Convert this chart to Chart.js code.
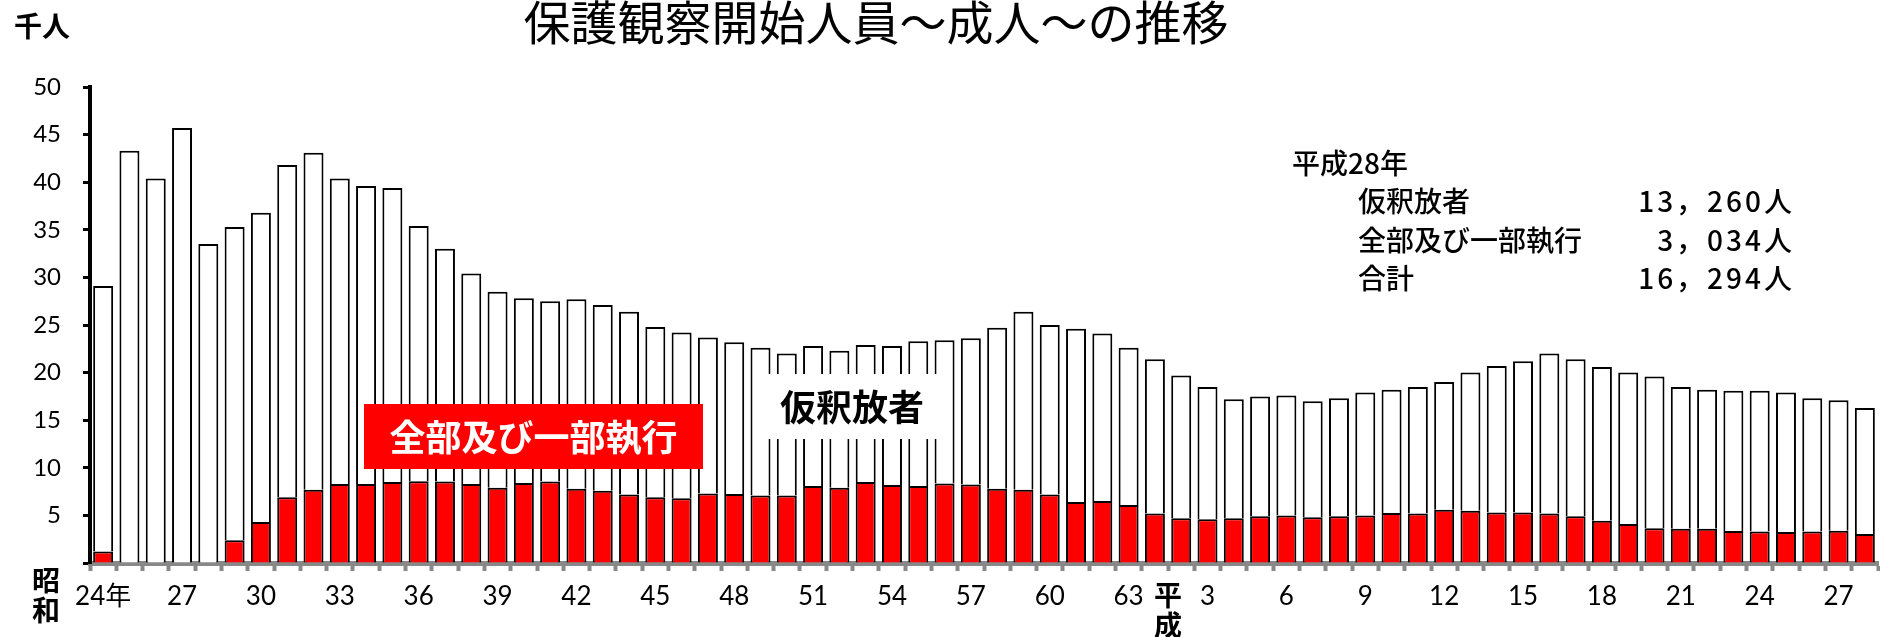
<!DOCTYPE html>
<html>
<head>
<meta charset="utf-8">
<script src="https://cdn.jsdelivr.net/npm/chart.js@4.4.1/dist/chart.umd.min.js"></script>
<style>
  html, body { margin: 0; padding: 0; background: #ffffff; }
  #wrap { width: 1880px; height: 637px; position: relative; }
</style>
</head>
<body>
<div id="wrap"><canvas id="chart" width="1880" height="637"></canvas></div>
<script>
// Years: Showa 24 (1949) to Heisei 28 (2016)
const years = [
  '昭和24','昭和25','昭和26','昭和27','昭和28','昭和29','昭和30','昭和31','昭和32','昭和33',
  '昭和34','昭和35','昭和36','昭和37','昭和38','昭和39','昭和40','昭和41','昭和42','昭和43',
  '昭和44','昭和45','昭和46','昭和47','昭和48','昭和49','昭和50','昭和51','昭和52','昭和53',
  '昭和54','昭和55','昭和56','昭和57','昭和58','昭和59','昭和60','昭和61','昭和62','昭和63',
  '平成元','平成2','平成3','平成4','平成5','平成6','平成7','平成8','平成9','平成10',
  '平成11','平成12','平成13','平成14','平成15','平成16','平成17','平成18','平成19','平成20',
  '平成21','平成22','平成23','平成24','平成25','平成26','平成27','平成28'
];

// Axis labels shown under the bars (every third year)
const tickLabels = [
  '24年','','','27','','','30','','','33',
  '','','36','','','39','','','42','',
  '','45','','','48','','','51','','',
  '54','','','57','','','60','','','63',
  '','','3','','','6','','','9','',
  '','12','','','15','','','18','','',
  '21','','','24','','','27',''
];

// Probation starts, thousands of persons
// 全部及び一部執行 (full and partial sentence execution)
const execution = [
  1.2, 0, 0, 0, 0, 2.4, 4.3, 6.9, 7.7, 8.3,
  8.3, 8.5, 8.6, 8.55, 8.3, 7.9, 8.4, 8.55, 7.8, 7.6,
  7.2, 6.9, 6.8, 7.3, 7.25, 7.1, 7.1, 8.1, 7.9, 8.5,
  8.2, 8.1, 8.35, 8.25, 7.8, 7.7, 7.2, 6.4, 6.5, 6.1,
  5.2, 4.7, 4.6, 4.7, 4.9, 5.0, 4.8, 4.9, 5.0, 5.25,
  5.2, 5.6, 5.5, 5.3, 5.3, 5.2, 4.9, 4.45, 4.1, 3.65,
  3.6, 3.6, 3.35, 3.3, 3.25, 3.3, 3.4, 3.034
];

// 仮釈放者 (parolees)
const parole = [
  27.9, 43.3, 40.4, 45.7, 33.5, 32.9, 32.5, 34.9, 35.4, 32.1,
  31.3, 30.9, 26.8, 24.45, 22.1, 20.6, 19.4, 18.95, 19.9, 19.5,
  19.2, 17.9, 17.4, 16.4, 15.95, 15.5, 14.9, 14.7, 14.4, 14.4,
  14.6, 15.2, 15.05, 15.35, 16.9, 18.7, 17.8, 18.2, 17.6, 16.5,
  16.2, 15.0, 13.9, 12.5, 12.6, 12.6, 12.2, 12.4, 12.9, 12.95,
  13.3, 13.4, 14.5, 15.4, 15.9, 16.8, 16.5, 16.15, 15.9, 15.95,
  14.9, 14.6, 14.75, 14.8, 14.65, 14.0, 13.7, 13.26
];

const CJK = '"Noto Sans CJK JP", "Noto Sans", sans-serif';
const NUM = 'Lato, "Noto Sans CJK JP", sans-serif';

// Persons from thousands, written with a full-width comma
function persons(v) {
  const n = Math.round(v * 1000);
  return String(Math.floor(n / 1000)) + '，' + String(n % 1000).padStart(3, '0') + '人';
}

function vText(ctx, chars, x, y0, step) {
  chars.forEach((ch, i) => ctx.fillText(ch, x, y0 + i * step));
}

const decorations = {
  id: 'decorations',
  afterDraw(chart) {
    const ctx = chart.ctx;
    const xs = chart.scales.x;
    const last = years.length - 1;
    ctx.save();
    ctx.textBaseline = 'middle';

    // title
    ctx.fillStyle = '#000';
    ctx.textAlign = 'center';
    ctx.font = '47px ' + CJK;
    ctx.fillText('保護観察開始人員～成人～の推移', 876, 22);

    // unit
    ctx.textAlign = 'left';
    ctx.font = 'bold 28px ' + CJK;
    ctx.fillText('千人', 14, 26);

    // era names under the axis
    ctx.textAlign = 'center';
    ctx.font = 'bold 28px ' + CJK;
    vText(ctx, ['昭', '和'], 46, 580, 30);
    const heiseiX = (xs.getPixelForValue(40) + xs.getPixelForValue(41)) / 2;
    vText(ctx, ['平', '成'], heiseiX, 595, 30);

    // series label: full and partial execution
    ctx.fillStyle = '#ff0000';
    ctx.fillRect(364, 404, 339, 65);
    ctx.fillStyle = '#ffffff';
    ctx.font = 'bold 36px ' + CJK;
    ctx.fillText('全部及び一部執行', 533.5, 437);

    // series label: parolees
    ctx.fillStyle = '#ffffff';
    ctx.fillRect(762, 374, 180, 65);
    ctx.fillStyle = '#000';
    ctx.fillText('仮釈放者', 852, 407);

    // figures for the latest year
    ctx.font = '500 28px ' + CJK;
    ctx.textAlign = 'left';
    ctx.fillText(years[last] + '年', 1292, 163);
    ctx.fillText('仮釈放者', 1358, 201);
    ctx.fillText('全部及び一部執行', 1358, 240);
    ctx.fillText('合計', 1358, 278);
    ctx.textAlign = 'right';
    ctx.letterSpacing = '3px';
    ctx.fillText(persons(parole[last]), 1795, 201);
    ctx.fillText(persons(execution[last]), 1795, 240);
    ctx.fillText(persons(parole[last] + execution[last]), 1795, 278);
    ctx.letterSpacing = '0px';
    ctx.restore();
  }
};

const barStyle = {
  borderColor: '#000000',
  borderWidth: 2,
  borderSkipped: 'start',
  barPercentage: 0.76,
  categoryPercentage: 1.0,
  stack: 'total'
};

new Chart(document.getElementById('chart'), {
  type: 'bar',
  data: {
    labels: years,
    datasets: [
      Object.assign({ label: '全部及び一部執行', data: execution, backgroundColor: '#ff0000' }, barStyle),
      Object.assign({ label: '仮釈放者', data: parole, backgroundColor: '#ffffff' }, barStyle)
    ]
  },
  options: {
    responsive: false,
    animation: false,
    devicePixelRatio: 1,
    layout: { padding: { top: 87, right: 2, left: 0, bottom: 0 } },
    plugins: {
      legend: { display: false },
      title: { display: false },
      tooltip: { enabled: false }
    },
    scales: {
      x: {
        stacked: true,
        offset: true,
        grid: {
          display: true,
          offset: true,
          drawOnChartArea: false,
          drawTicks: true,
          tickLength: 8,
          tickColor: '#888888',
          tickWidth: 4
        },
        border: { display: true, color: '#888888', width: 5 },
        ticks: {
          autoSkip: false,
          maxRotation: 0,
          minRotation: 0,
          color: '#000',
          padding: 10,
          font: { family: NUM, size: 26 },
          callback: (v, i) => tickLabels[i]
        },
        afterFit: s => { s.height = 74; }
      },
      y: {
        stacked: true,
        min: 0,
        max: 50,
        grid: {
          drawOnChartArea: false,
          drawTicks: true,
          tickLength: 7,
          tickColor: '#000000',
          tickWidth: 3
        },
        border: { display: true, color: '#000000', width: 4 },
        ticks: {
          stepSize: 5,
          color: '#000',
          padding: 22,
          font: { family: NUM, size: 24 },
          callback: v => (v === 0 ? '' : v)
        },
        afterFit: s => { s.width = 90; }
      }
    }
  },
  plugins: [decorations]
});
</script>
</body>
</html>
